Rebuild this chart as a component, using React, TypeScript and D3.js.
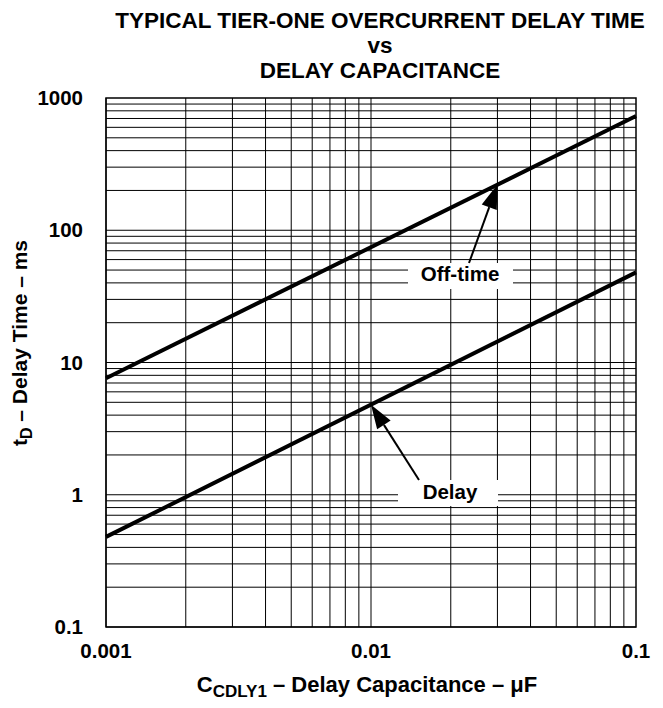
import React from 'react';
import * as d3 from 'd3';

// capacitance (uF) at the ends of each straight log-log line
const capacitance = [0.001, 0.1];
const offTimeMs = [7.6, 730];
const delayMs = [0.48, 48];

const xTicks = [0.001, 0.01, 0.1];
const xTickLabels = ['0.001', '0.01', '0.1'];
const yTicks = [0.1, 1, 10, 100, 1000];
const yTickLabels = ['0.1', '1', '10', '100', '1000'];

const titleLines = ['TYPICAL TIER-ONE OVERCURRENT DELAY TIME', 'vs', 'DELAY CAPACITANCE'];

const W = 663;
const H = 708;
const m = { left: 106, right: 636, top: 98, bottom: 627 };
const font = 'Liberation Sans, Arial, Helvetica, sans-serif';

const x = d3.scaleLog().domain([0.001, 0.1]).range([m.left, m.right]);
const y = d3.scaleLog().domain([0.1, 1000]).range([m.bottom, m.top]);

// value of a straight log-log line at capacitance c
const valueAt = (vals: number[], c: number) => {
  const t = (Math.log10(c) - Math.log10(capacitance[0])) / (Math.log10(capacitance[1]) - Math.log10(capacitance[0]));
  return Math.pow(10, Math.log10(vals[0]) + t * (Math.log10(vals[1]) - Math.log10(vals[0])));
};

const minorX: number[] = [];
for (let e = -3; e < -1; e++) for (let k = 1; k <= 9; k++) minorX.push(k * Math.pow(10, e));
const minorY: number[] = [];
for (let e = -1; e < 3; e++) for (let k = 1; k <= 9; k++) minorY.push(k * Math.pow(10, e));

const line = d3.line<number>()
  .x((_, i) => x(capacitance[i]))
  .y(d => y(d));

function Arrow({ x1, y1, x2, y2 }: { x1: number; y1: number; x2: number; y2: number }) {
  const ang = Math.atan2(y2 - y1, x2 - x1);
  const len = 24;
  const half = 8;
  const bx = x2 - len * Math.cos(ang);
  const by = y2 - len * Math.sin(ang);
  const px = -Math.sin(ang) * half;
  const py = Math.cos(ang) * half;
  return (
    <g>
      <line x1={x1} y1={y1} x2={bx} y2={by} stroke="#000" strokeWidth={2} />
      <polygon points={`${x2},${y2} ${bx + px},${by + py} ${bx - px},${by - py}`} fill="#000" />
    </g>
  );
}

export default function App() {
  const offTip = { x: x(0.03), y: y(valueAt(offTimeMs, 0.03)) };
  const delayTip = { x: x(0.01), y: y(valueAt(delayMs, 0.01)) };

  return (
    <svg width={W} height={H} style={{ display: 'block', position: 'absolute', left: 0, top: 0, background: '#fff' }} fontFamily={font}>
      <rect width={W} height={H} fill="#fff" />

      {titleLines.map((t, i) => (
        <text key={i} x={380} y={28 + i * 25} textAnchor="middle" fontSize={22.5} fontWeight="bold">{t}</text>
      ))}

      {/* grid */}
      {minorX.map((v, i) => (
        <line key={'gx' + i} x1={x(v)} x2={x(v)} y1={m.top} y2={m.bottom} stroke="#000" strokeWidth={1} />
      ))}
      {minorY.map((v, i) => (
        <line key={'gy' + i} x1={m.left} x2={m.right} y1={y(v)} y2={y(v)} stroke="#000" strokeWidth={1} />
      ))}
      <rect x={m.left} y={m.top} width={m.right - m.left} height={m.bottom - m.top} fill="none" stroke="#000" strokeWidth={1.5} />

      {/* curves */}
      <path d={line(offTimeMs) ?? ''} fill="none" stroke="#000" strokeWidth={4} />
      <path d={line(delayMs) ?? ''} fill="none" stroke="#000" strokeWidth={4} />

      {/* annotations */}
      <rect x={408} y={263} width={105} height={26} fill="#fff" />
      <text x={460} y={281} textAnchor="middle" fontSize={20.5} fontWeight="bold">Off-time</text>
      <Arrow x1={469} y1={263} x2={offTip.x} y2={offTip.y} />

      <rect x={398} y={480} width={100} height={26} fill="#fff" />
      <text x={450} y={499} textAnchor="middle" fontSize={20.5} fontWeight="bold">Delay</text>
      <Arrow x1={419} y1={480} x2={delayTip.x} y2={delayTip.y} />

      {/* tick labels */}
      {yTicks.map((v, i) => (
        <text key={'yt' + i} x={83} y={y(v) + 7} textAnchor="end" fontSize={20.5} fontWeight="bold">{yTickLabels[i]}</text>
      ))}
      {xTicks.map((v, i) => (
        <text key={'xt' + i} x={x(v)} y={658} textAnchor="middle" fontSize={20.5} fontWeight="bold">{xTickLabels[i]}</text>
      ))}

      {/* axis titles */}
      <text transform="translate(27,343) rotate(-90)" textAnchor="middle" fontSize={21} fontWeight="bold">
        t<tspan fontSize={16} dy={5}>D</tspan><tspan dy={-5}> – Delay Time – ms</tspan>
      </text>
      <text x={367} y={692} textAnchor="middle" fontSize={22} fontWeight="bold">
        C<tspan fontSize={17} dy={5}>CDLY1</tspan><tspan dy={-5}> – Delay Capacitance – μF</tspan>
      </text>
    </svg>
  );
}
